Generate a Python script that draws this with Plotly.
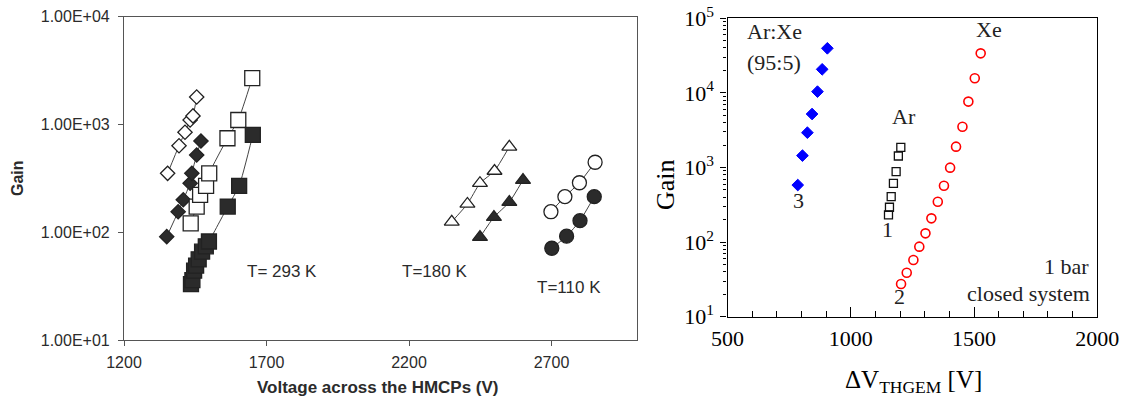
import numpy as np
import plotly.graph_objects as go

# ---------------- Left panel: HMCP gain vs. voltage ----------------
v_open_diamond = [1353, 1393, 1414, 1432, 1442, 1455]
g_open_diamond = [352, 635, 847, 1100, 1200, 1800]
v_fill_diamond = [1350, 1390, 1408, 1432, 1438, 1455, 1470]
g_fill_diamond = [91, 155, 200, 285, 352, 521, 703]
v_open_square = [1434, 1455, 1467, 1488, 1499, 1563, 1601, 1650]
g_open_square = [121, 173, 222, 269, 352, 745, 1100, 2690]
v_fill_square = [1435, 1440, 1446, 1453, 1462, 1474, 1487, 1498, 1564, 1604, 1652]
g_fill_square = [33, 36, 44, 49, 56, 66, 74, 82, 173, 269, 800]
v_open_tri = [2350, 2405, 2449, 2500, 2552]
g_open_tri = [125, 183, 285, 370, 620]
v_fill_tri = [2449, 2498, 2552, 2600]
g_fill_tri = [90, 138, 190, 305]
v_open_circ = [2698, 2747, 2798, 2853]
g_open_circ = [155, 214, 288, 446]
v_fill_circ = [2701, 2753, 2800, 2850]
g_fill_circ = [71, 92, 128, 214]

left_xticks = [1200, 1700, 2200, 2700]
left_yticks = [10, 100, 1000, 10000]
left_yticktext = ["1.00E+01", "1.00E+02", "1.00E+03", "1.00E+04"]

# ---------------- Right panel: THGEM gain vs. ΔV ----------------
v_arxe = [785, 804, 824, 843, 865, 884, 905]
g_arxe = [582, 1443, 2930, 5210, 10400, 20700, 39600]
v_ar = [1153, 1157, 1164, 1173, 1184, 1193, 1203]
g_ar = [231, 293, 406, 614, 879, 1426, 1866]
v_xe = [1204, 1227, 1254, 1278, 1303, 1327, 1353, 1378, 1403, 1427, 1453, 1477, 1503, 1527]
g_xe = [27.4, 38.9, 57.5, 86.9, 131, 208, 348, 570, 996, 1903, 3520, 7640, 15700, 33900]

right_xticks = [500, 1000, 1500, 2000]
right_yticks = [10, 100, 1000, 10000, 100000]
right_yticktext = ["10<sup>1</sup>", "10<sup>2</sup>", "10<sup>3</sup>", "10<sup>4</sup>", "10<sup>5</sup>"]

W, H = 1129, 403
SANS = "Liberation Sans, Arial, sans-serif"
SERIF = "Liberation Serif, Times New Roman, serif"
INK = "#2b2b2b"


def px_x(p):
    return p / W


def px_y(p):
    return 1 - p / H


fig = go.Figure()


def hmcp_series(x, y, symbol, size, filled):
    fig.add_trace(go.Scatter(
        x=x, y=y, mode="lines+markers", xaxis="x", yaxis="y",
        line=dict(color="#444444", width=1, shape="spline", smoothing=0.5),
        marker=dict(symbol=symbol, size=size,
                    color=INK if filled else "white",
                    line=dict(color="#222222", width=1.3)),
        showlegend=False, hoverinfo="x+y"))


hmcp_series(v_open_diamond, g_open_diamond, "diamond", 11, False)
hmcp_series(v_fill_diamond, g_fill_diamond, "diamond", 11, True)
hmcp_series(v_open_square, g_open_square, "square", 15, False)
hmcp_series(v_fill_square, g_fill_square, "square", 15, True)
hmcp_series(v_open_tri, g_open_tri, "triangle-up", 13, False)
hmcp_series(v_fill_tri, g_fill_tri, "triangle-up", 13, True)
hmcp_series(v_open_circ, g_open_circ, "circle", 14, False)
hmcp_series(v_fill_circ, g_fill_circ, "circle", 14, True)

# THGEM series
fig.add_trace(go.Scatter(
    x=v_arxe, y=g_arxe, mode="markers", xaxis="x2", yaxis="y2",
    marker=dict(symbol="diamond", size=9, color="#0000ff",
                line=dict(color="#0000ff", width=1)),
    showlegend=False))
fig.add_trace(go.Scatter(
    x=v_ar, y=g_ar, mode="markers", xaxis="x2", yaxis="y2",
    marker=dict(symbol="square-open", size=8, color="#111111",
                line=dict(width=1.3)),
    showlegend=False))
fig.add_trace(go.Scatter(
    x=v_xe, y=g_xe, mode="markers", xaxis="x2", yaxis="y2",
    marker=dict(symbol="circle-open", size=9, color="#ff0000",
                line=dict(width=1.6)),
    showlegend=False))

# Plot-area rectangles in pixels
L_left, L_right, L_top, L_bot = 124, 637, 16.7, 340
R_left, R_right, R_top, R_bot = 727.5, 1097.3, 18.3, 316.7

minor_log = [m * 10 ** e for e in range(1, 5) for m in range(2, 10)]

fig.update_layout(
    width=W, height=H,
    margin=dict(l=0, r=0, t=0, b=0, pad=0, autoexpand=False),
    paper_bgcolor="white", plot_bgcolor="white",
    xaxis=dict(
        domain=[px_x(L_left), px_x(L_right)], anchor="y", automargin=False,
        range=[1200, 3000], tickvals=left_xticks,
        ticks="outside", ticklen=5, tickcolor="#555555", tickwidth=1,
        showline=True, linecolor="#555555", linewidth=1.2, mirror=True,
        showgrid=False, zeroline=False,
        tickfont=dict(family=SANS, size=16, color=INK),
        ticklabelstandoff=3,
    ),
    yaxis=dict(
        domain=[px_y(L_bot), px_y(L_top)], anchor="x", automargin=False,
        type="log", range=[1, 4],
        tickvals=left_yticks, ticktext=left_yticktext,
        ticks="outside", ticklen=5, tickcolor="#555555", tickwidth=1,
        showline=True, linecolor="#555555", linewidth=1.2, mirror=True,
        showgrid=False, zeroline=False,
        tickfont=dict(family=SANS, size=16, color=INK),
        ticklabelstandoff=5,
    ),
    xaxis2=dict(
        domain=[px_x(R_left), px_x(R_right)], anchor="y2", automargin=False,
        range=[500, 2000], tickvals=right_xticks,
        ticks="inside", ticklen=10, tickcolor="black", tickwidth=1,
        minor=dict(dtick=100, ticks="inside", ticklen=6,
                   tickcolor="black", tickwidth=1, showgrid=False),
        showline=True, linecolor="black", linewidth=1.3, mirror=True,
        showgrid=False, zeroline=False,
        tickfont=dict(family=SERIF, size=22, color="black"),
        ticklabelstandoff=2,
    ),
    yaxis2=dict(
        domain=[px_y(R_bot), px_y(R_top)], anchor="x2", automargin=False,
        type="log", range=[1, 5],
        tickvals=right_yticks, ticktext=right_yticktext,
        ticks="outside", ticklen=6, tickcolor="black", tickwidth=1,
        minor=dict(tickvals=minor_log, ticks="outside", ticklen=3,
                   tickcolor="black", tickwidth=1, showgrid=False),
        showline=True, linecolor="black", linewidth=1.3, mirror=True,
        showgrid=False, zeroline=False,
        tickfont=dict(family=SERIF, size=22, color="black"),
        ticklabelstandoff=2,
    ),
)


def label(text, x, y, family, size, color, xanchor="center", xref="paper",
          yref="paper", angle=0):
    return dict(text=text, x=x, y=y, xref=xref, yref=yref, showarrow=False,
                xanchor=xanchor, yanchor="middle", textangle=angle,
                font=dict(family=family, size=size, color=color))


annotations = [
    # left panel titles
    label("<b>Voltage across the HMCPs (V)</b>", px_x(378), px_y(387), SANS, 17, INK),
    label("<b>Gain</b>", px_x(18), px_y(178), SANS, 16, INK, angle=-90),
    # temperature labels
    label("T= 293 K", 1625, np.log10(43), SANS, 17, INK, "left", "x", "y"),
    label("T=180 K", 2168, np.log10(43), SANS, 17, INK, "left", "x", "y"),
    label("T=110 K", 2642, np.log10(31), SANS, 17, INK, "left", "x", "y"),
    # right panel titles
    label("ΔV<sub>THGEM</sub> [V]", px_x(913), px_y(381), SERIF, 25, "black"),
    label("Gain", px_x(665), px_y(185), SERIF, 26, "black", angle=-90),
    # right panel labels
    label("Ar:Xe", px_x(745), px_y(32), SERIF, 22, "#222222", "left"),
    label("(95:5)", px_x(745), px_y(62), SERIF, 22, "#222222", "left"),
    label("Ar", px_x(904), px_y(117), SERIF, 22, "#222222"),
    label("Xe", px_x(989), px_y(29), SERIF, 22, "#222222"),
    label("3", px_x(798), px_y(200), SERIF, 22, "#222222"),
    label("1", px_x(887), px_y(230), SERIF, 22, "#222222"),
    label("2", px_x(900), px_y(296), SERIF, 22, "#222222"),
    label("1 bar", px_x(1091), px_y(266), SERIF, 22, "#222222", "right"),
    label("closed system", px_x(1092), px_y(293), SERIF, 22, "#222222", "right"),
]
fig.update_layout(annotations=annotations)

fig.write_html("out.html")
